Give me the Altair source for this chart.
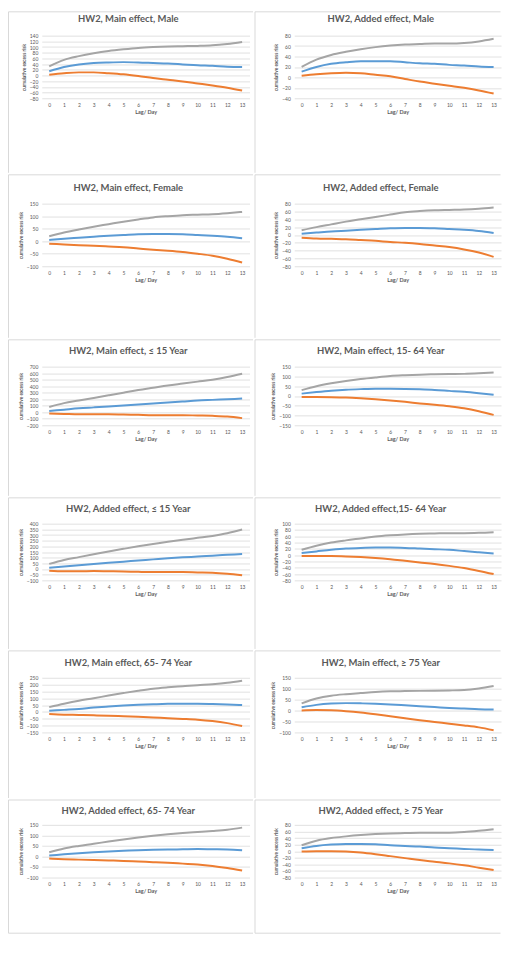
import altair as alt
import pandas as pd

lag = list(range(14))

# ---- Panel values ----
# HW2, Main effect, Male
main_male_est = [15, 30, 39, 44, 46, 47, 46, 44, 42, 39, 36, 34, 31, 30]
main_male_low = [3, 8, 11, 11, 8, 4, -2, -9, -15, -21, -28, -35, -43, -53]
main_male_high = [32, 55, 68, 78, 86, 92, 97, 100, 102, 103, 104, 106, 111, 118]
main_male_y = [-80, 140, 20]

# HW2, Added effect, Male
add_male_est = [11, 20, 26, 29, 31, 31, 31, 29, 27, 26, 24, 23, 21, 20]
add_male_low = [3, 6, 8, 9, 8, 5, 2, -3, -8, -12, -16, -20, -25, -31]
add_male_high = [20, 34, 43, 49, 54, 58, 61, 63, 64, 65, 65, 66, 69, 74]
add_male_y = [-40, 80, 20]

# HW2, Main effect, Female
main_fem_est = [5, 10, 14, 18, 22, 25, 28, 29, 29, 28, 25, 22, 18, 12]
main_fem_low = [-10, -13, -16, -18, -21, -24, -29, -34, -38, -43, -50, -58, -70, -85]
main_fem_high = [20, 35, 47, 58, 68, 78, 87, 95, 100, 104, 106, 108, 112, 117]
main_fem_y = [-100, 150, 50]

# HW2, Added effect, Female
add_fem_est = [3, 6, 9, 11, 13, 15, 17, 18, 18, 17, 15, 13, 10, 5]
add_fem_low = [-7, -9, -10, -11, -13, -15, -18, -20, -23, -27, -31, -37, -45, -56]
add_fem_high = [12, 20, 27, 34, 40, 46, 52, 58, 61, 63, 64, 65, 67, 70]
add_fem_y = [-80, 80, 20]

# HW2, Main effect, <= 15 Year
main_u15_est = [20, 40, 60, 75, 90, 105, 120, 135, 150, 165, 180, 190, 200, 210]
main_u15_low = [-20, -25, -30, -30, -30, -35, -40, -45, -45, -45, -50, -55, -65, -90]
main_u15_high = [80, 140, 180, 220, 260, 300, 340, 375, 410, 440, 470, 500, 540, 590]
main_u15_y = [-200, 700, 100]

# HW2, Main effect, 15- 64 Year
main_1564_est = [12, 20, 27, 32, 35, 37, 37, 36, 34, 31, 26, 21, 14, 6]
main_1564_low = [-5, -5, -6, -8, -12, -17, -23, -30, -38, -45, -53, -63, -78, -97]
main_1564_high = [30, 50, 65, 77, 87, 95, 102, 106, 109, 111, 112, 113, 116, 120]
main_1564_y = [-150, 150, 50]

# HW2, Added effect, <= 15 Year
add_u15_est = [12, 22, 33, 45, 55, 65, 75, 85, 95, 103, 110, 118, 125, 132]
add_u15_low = [-15, -20, -20, -18, -20, -22, -25, -27, -27, -27, -30, -33, -42, -55]
add_u15_high = [45, 80, 105, 130, 155, 178, 200, 220, 240, 258, 275, 292, 315, 348]
add_u15_y = [-100, 400, 50]

# HW2, Added effect,15- 64 Year
add_1564_est = [7, 12, 17, 21, 23, 24, 24, 23, 21, 19, 17, 13, 9, 5]
add_1564_low = [-3, -3, -3, -4, -6, -9, -13, -18, -23, -28, -34, -41, -50, -60]
add_1564_high = [17, 30, 40, 47, 53, 59, 63, 66, 68, 69, 70, 70, 71, 73]
add_1564_y = [-80, 100, 20]

# HW2, Main effect, 65- 74 Year
main_6574_est = [8, 15, 22, 32, 40, 47, 52, 56, 59, 60, 60, 58, 55, 50]
main_6574_low = [-15, -20, -22, -25, -28, -32, -36, -41, -46, -51, -57, -67, -82, -103]
main_6574_high = [35, 60, 82, 100, 120, 138, 155, 170, 180, 188, 196, 203, 213, 228]
main_6574_y = [-150, 250, 50]

# HW2, Main effect, >= 75 Year
main_o75_est = [15, 26, 32, 34, 33, 31, 28, 24, 20, 16, 12, 9, 6, 5]
main_o75_low = [0, 2, 1, -3, -9, -17, -26, -35, -44, -52, -60, -68, -77, -90]
main_o75_high = [33, 55, 68, 75, 80, 85, 88, 89, 90, 91, 92, 94, 101, 112]
main_o75_y = [-100, 150, 50]

# HW2, Added effect, 65- 74 Year
add_6574_est = [5, 10, 15, 20, 24, 27, 30, 32, 33, 34, 35, 34, 33, 30]
add_6574_low = [-10, -13, -15, -17, -19, -21, -24, -27, -30, -34, -38, -45, -55, -67]
add_6574_high = [20, 38, 50, 60, 71, 81, 90, 98, 105, 111, 116, 121, 127, 137]
add_6574_y = [-100, 150, 50]

# HW2, Added effect, >= 75 Year
add_o75_est = [9, 16, 20, 22, 22, 21, 18, 16, 14, 11, 9, 7, 5, 4]
add_o75_low = [-1, 0, 0, -1, -4, -9, -15, -21, -27, -32, -37, -43, -50, -57]
add_o75_high = [18, 32, 40, 45, 49, 52, 54, 55, 56, 56, 56, 58, 62, 67]
add_o75_y = [-80, 80, 20]

series_names = ["Estimate", "Lower", "Upper"]

BLUE = "#5B9BD5"
ORANGE = "#ED7D31"
GRAY = "#A5A5A5"
TXT = "#595959"
FONT = "Lato"
BORDER = "#D9D9D9"

# row geometry: (plot top offset in box, plot height, box height, title dy)
row_geom = [
    (25, 63, 164, -17),
    (30, 63, 166, -16),
    (28, 59, 159, -16),
    (27, 57, 154, -15),
    (28, 55, 150, -15),
    (26, 53, 136, -14),
]


def panel(title, est, low, high, yr, col, row, last=False):
    top_off, H, box_h, tdy = row_geom[row]
    if col == 0:
        W, bx1, bx2 = 209, -34.5, 213.5
    else:
        W, bx1, bx2 = 208, -40.5, 208.5
    by1, by2 = -top_off, box_h - top_off
    ymin, ymax, step = yr
    df = pd.DataFrame({
        "Lag": lag * 3,
        "Value": est + low + high,
        "Series": [s for s in series_names for _ in lag],
    })
    lines = alt.Chart(df).mark_line(strokeWidth=2, interpolate="monotone").encode(
        x=alt.X("Lag:Q",
                scale=alt.Scale(domain=[-0.5, 13.5], nice=False, zero=False),
                axis=alt.Axis(values=lag, format="d", title="Lag/ Day", grid=False,
                              domain=False, ticks=False, tickSize=0, labelPadding=4,
                              labelFontSize=5, labelColor=TXT, labelFont=FONT,
                              titleFontSize=5.5, titleFontWeight="bold", titleColor=TXT,
                              titleFont=FONT, titlePadding=2)),
        y=alt.Y("Value:Q",
                scale=alt.Scale(domain=[ymin, ymax], nice=False, zero=False),
                axis=alt.Axis(values=list(range(ymin, ymax + 1, step)), format="d",
                              title="cumulative excess risk", grid=True, gridColor=BORDER,
                              gridWidth=0.8, domain=False, ticks=False, tickSize=0,
                              labelPadding=4, labelFontSize=5, labelColor=TXT,
                              labelFont=FONT, titleFontSize=4.8, titleFontWeight="bold",
                              titleColor=TXT, titleFont=FONT, titlePadding=3)),
        color=alt.Color("Series:N",
                        scale=alt.Scale(domain=series_names, range=[BLUE, ORANGE, GRAY]),
                        legend=None),
    )
    one = alt.Chart(pd.DataFrame({"k": [0]}))
    box_inv = one.mark_rect(opacity=0, fillOpacity=0).encode(
        x=alt.value(bx1 + 1), y=alt.value(by1 + 1), x2=alt.value(bx2), y2=alt.value(by2))
    left_rule = one.mark_rule(color=BORDER, strokeWidth=1).encode(
        x=alt.value(bx1 + 1), y=alt.value(by1 + 1), y2=alt.value(by2 - 1))
    top_rule = one.mark_rule(color=BORDER, strokeWidth=1).encode(
        x=alt.value(bx1 + 1), x2=alt.value(bx2 - 1), y=alt.value(by1 + 1))
    ttl = one.mark_text(text=title, font=FONT, fontSize=9.5, fontWeight="bold",
                        color=TXT, align="center", baseline="middle").encode(
        x=alt.value(87), y=alt.value(tdy))
    layers = [box_inv, left_rule, top_rule, lines, ttl]
    if last:
        layers.append(one.mark_rule(color=BORDER, strokeWidth=1).encode(
            x=alt.value(bx1 + 1), x2=alt.value(bx2 - 1), y=alt.value(by2 - 1)))
    return alt.layer(*layers).properties(width=W, height=H)


rows = [
    alt.hconcat(
        panel("HW2, Main effect, Male", main_male_est, main_male_low, main_male_high, main_male_y, 0, 0),
        panel("HW2, Added effect, Male", add_male_est, add_male_low, add_male_high, add_male_y, 1, 0),
        spacing=0),
    alt.hconcat(
        panel("HW2, Main effect, Female", main_fem_est, main_fem_low, main_fem_high, main_fem_y, 0, 1),
        panel("HW2, Added effect, Female", add_fem_est, add_fem_low, add_fem_high, add_fem_y, 1, 1),
        spacing=0),
    alt.hconcat(
        panel("HW2, Main effect, ≤ 15 Year", main_u15_est, main_u15_low, main_u15_high, main_u15_y, 0, 2),
        panel("HW2, Main effect, 15- 64 Year", main_1564_est, main_1564_low, main_1564_high, main_1564_y, 1, 2),
        spacing=0),
    alt.hconcat(
        panel("HW2, Added effect, ≤ 15 Year", add_u15_est, add_u15_low, add_u15_high, add_u15_y, 0, 3),
        panel("HW2, Added effect,15- 64 Year", add_1564_est, add_1564_low, add_1564_high, add_1564_y, 1, 3),
        spacing=0),
    alt.hconcat(
        panel("HW2, Main effect, 65- 74 Year", main_6574_est, main_6574_low, main_6574_high, main_6574_y, 0, 4),
        panel("HW2, Main effect, ≥ 75 Year", main_o75_est, main_o75_low, main_o75_high, main_o75_y, 1, 4),
        spacing=0),
    alt.hconcat(
        panel("HW2, Added effect, 65- 74 Year", add_6574_est, add_6574_low, add_6574_high, add_6574_y, 0, 5, last=True),
        panel("HW2, Added effect, ≥ 75 Year", add_o75_est, add_o75_low, add_o75_high, add_o75_y, 1, 5, last=True),
        spacing=0),
]

chart = alt.vconcat(*rows, spacing=0).properties(
    padding=0, background="white"
).configure_view(stroke=None)

chart.save("out.html", embed_options={"renderer": "svg", "actions": False})
